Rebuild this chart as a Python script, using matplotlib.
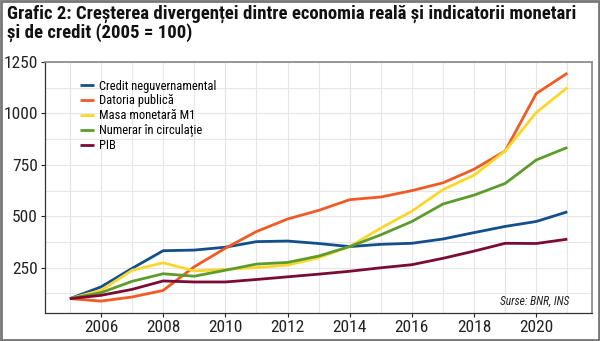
import matplotlib.pyplot as plt
from matplotlib.ticker import MultipleLocator
from matplotlib.patches import Rectangle
from matplotlib import font_manager

# ---------------------------
# Data (2005 = 100)
# ---------------------------
years = list(range(2005, 2022))

credit = [100, 157, 247, 333, 336, 350, 377, 380, 368, 353, 364, 369, 390, 421, 451, 475, 522]
datoria = [100, 88, 108, 140, 255, 345, 426, 487, 529, 581, 594, 625, 663, 729, 818, 1097, 1196]
m1 = [100, 140, 238, 274, 235, 242, 251, 263, 299, 353, 443, 525, 630, 700, 818, 1005, 1126]
numerar = [100, 129, 184, 221, 209, 238, 268, 276, 307, 353, 410, 475, 560, 603, 660, 774, 835]
pib = [100, 116, 145, 186, 181, 181, 193, 206, 219, 233, 250, 265, 296, 331, 369, 368, 389]

labels = ['Credit neguvernamental', 'Datoria publică', 'Masa monetară M1',
          'Numerar în circulație', 'PIB']
colors = ['#124f8c', '#f15a24', '#fcd62c', '#5c9b2c', '#7b0b35']

title = 'Grafic 2: Creșterea divergenței dintre economia reală și indicatorii monetari\nși de credit (2005 = 100)'

# ---------------------------
# Plot
# ---------------------------
names = {f.name for f in font_manager.fontManager.ttflist}
fams = [n for n in ['Roboto Condensed', 'Liberation Sans Narrow', 'Roboto'] if n in names]
plt.rcParams['font.family'] = fams + ['DejaVu Sans']

fig = plt.figure(figsize=(6, 3.41), dpi=100)
ax = fig.add_axes([0.075, 0.082, 0.912, 0.736])

series = [credit, datoria, m1, numerar, pib]
for vals, lab, col in zip(series, labels, colors):
    ax.plot(years, vals, color=col, lw=2, label=lab, solid_capstyle='butt')

ax.set_xlim(2004.2, 2021.8)
ax.set_ylim(30, 1250)
ax.xaxis.set_major_locator(MultipleLocator(2))
ax.xaxis.set_minor_locator(MultipleLocator(1))
ax.yaxis.set_major_locator(MultipleLocator(250))
ax.yaxis.set_minor_locator(MultipleLocator(125))
ax.set_yticks([250, 500, 750, 1000, 1250])

ax.grid(which='both', color='#e6e6e6', lw=0.8)
ax.set_axisbelow(True)
ax.tick_params(which='major', labelsize=12.5, colors='#222222', length=3, width=0.8, pad=2)
ax.tick_params(which='minor', length=0)

for s in ['top', 'right']:
    ax.spines[s].set_color('#888888')
    ax.spines[s].set_linewidth(1.2)
for s in ['left', 'bottom']:
    ax.spines[s].set_color('#333333')
    ax.spines[s].set_linewidth(0.9)

leg = ax.legend(loc='upper left', bbox_to_anchor=(0.05, 0.96), frameon=False,
                fontsize=9.0, handlelength=1.1, handletextpad=0.4, labelspacing=0.15,
                borderaxespad=0.2)

ax.text(0.958, 0.022, 'Surse: BNR, INS', transform=ax.transAxes, ha='right', va='bottom',
        fontsize=8.3, style='italic', color='#222222')

fig.text(0.012, 0.985, title, ha='left', va='top', fontsize=13.5, fontweight='bold',
         color='#111111', linespacing=1.0)

# outer frame of the picture
fig.patches.append(Rectangle((0.002, 0.003), 0.996, 0.994, transform=fig.transFigure,
                             fill=False, edgecolor='#777777', lw=2))

fig.savefig('out.png', dpi=100)
